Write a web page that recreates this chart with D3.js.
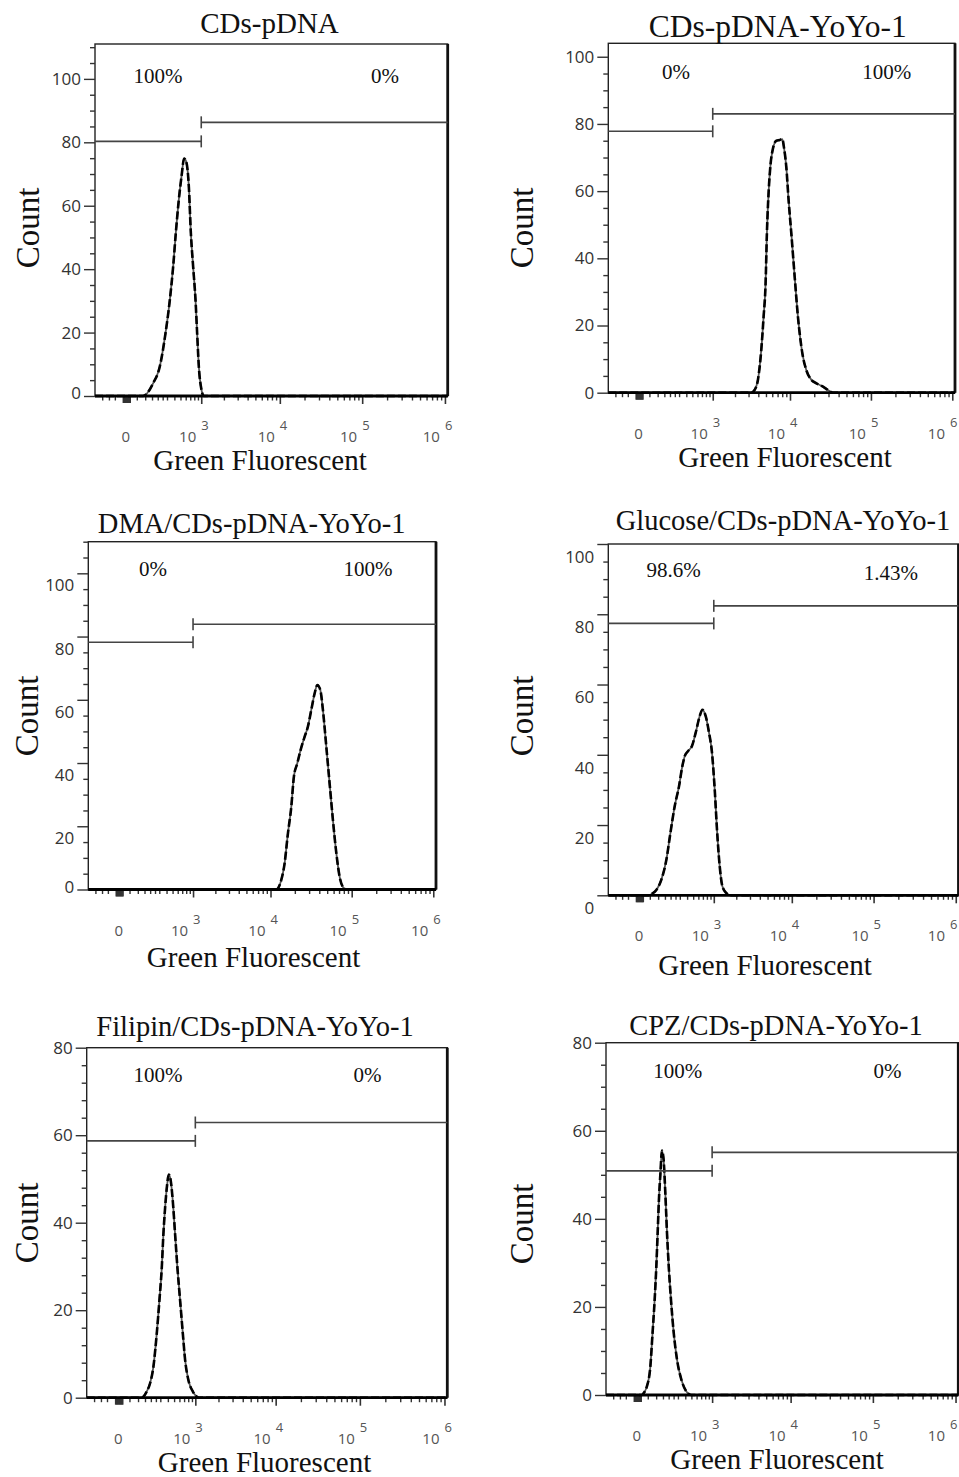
<!DOCTYPE html>
<html>
<head>
<meta charset="utf-8">
<script src="https://cdn.jsdelivr.net/npm/d3@7"></script>
<style>
  body { margin: 0; background: #fff; }
  svg { display: block; }
</style>
</head>
<body>
<svg id="canvas" width="959" height="1477"></svg>
<script>
// panel titles and gate percentages
const titles = [
  "CDs-pDNA",
  "CDs-pDNA-YoYo-1",
  "DMA/CDs-pDNA-YoYo-1",
  "Glucose/CDs-pDNA-YoYo-1",
  "Filipin/CDs-pDNA-YoYo-1",
  "CPZ/CDs-pDNA-YoYo-1",
];
const leftPercent = ["100%", "0%", "0%", "98.6%", "100%", "100%"];
const rightPercent = ["0%", "100%", "100%", "1.43%", "0%", "0%"];

// count axis
const countMax = [111, 104, 110, 100, 80, 80];
const countMinorStep = [5, 5, 5, 5, 4, 5];
const countMajorStep = 20;

// fluorescence axis (biexponential-ish display)
const fluorDomain = [-190, 1.08e6];
const decadeTicks = [1e3, 1e4, 1e5, 1e6];
const decadeExponents = ["3", "4", "5", "6"];
const zeroTicks = [-12, -8, -4, 0, 4, 8, 12, 16];
const lowTicks = [-130, -84, -50, 50, 100, 150, 200, 250, 300, 400, 500, 600, 700, 800, 900];

// gates: cut at 10^3, bar heights in count units
const gateCut = 1000;
const gateLeftLevel = [80.3, 77.8, 78.2, 77.4, 58.7, 50.9];
const gateRightLevel = [86.3, 83.0, 83.9, 82.4, 62.9, 55.1];

// histograms, [fluorescence, count]
const histCDsPDNA = [
  [86, 0], [159, 4], [220, 9.3], [282, 19.8], [336, 30.3], [382, 40.8], [422, 51.4],
  [471, 61.9], [519, 69.3], [568, 74.9], [617, 73.5], [667, 66.1], [714, 51.4],
  [770, 40.8], [832, 30.3], [877, 19.8], [926, 9.3], [1009, 1.9], [1085, 0],
];
const histYoYo = [
  [3250, 0], [3584, 0.8], [3951, 3.8], [4359, 12.7], [4666, 22.6], [4944, 32.5],
  [5135, 47.3], [5443, 61.2], [5718, 68.1], [6113, 72.6], [6748, 75.0], [7420, 75.2],
  [8022, 75.5], [8400, 73.1], [9002, 67.1], [9618, 57.2], [10400, 47.3], [11440, 34.5],
  [12560, 22.6], [14250, 11.7], [15970, 6.7], [18440, 3.8], [21270, 2.8], [25680, 1.8],
  [29610, 0.8], [34120, 0],
];
const histDMA = [
  [12000, 0], [12340, 0.3], [13590, 3.0], [14940, 8.2], [16420, 17.7], [18090, 26.2],
  [19470, 35.7], [21440, 39.9], [23550, 44.1], [26380, 48.3], [28970, 51.5],
  [31890, 56.8], [35040, 62.0], [37840, 64.7], [41200, 63.1], [44330, 56.8],
  [48820, 45.1], [53580, 33.5], [58870, 21.9], [64830, 11.4], [71160, 4.0],
  [78110, 0.8], [85990, 0],
];
const histGlucose = [
  [50, 0], [58, 0.3], [88, 1.5], [122, 4.4], [162, 10.1], [198, 17.7], [241, 25.3],
  [290, 31.0], [333, 36.8], [365, 39.6], [413, 41.0], [479, 42.5], [547, 46.3],
  [628, 51.0], [689, 52.8], [769, 51.0], [857, 46.3], [944, 40.6], [1030, 30.1],
  [1107, 18.7], [1206, 8.2], [1312, 2.5], [1484, 0.6], [1641, 0],
];
const histFilipin = [
  [125, 0], [137, 0.2], [164, 1.4], [193, 3.3], [224, 7.0], [259, 14.6], [289, 22.2],
  [318, 29.8], [338, 37.3], [361, 43.4], [385, 48.0], [414, 51.0], [445, 49.5],
  [478, 44.9], [518, 37.3], [560, 29.8], [614, 22.2], [672, 14.6], [724, 8.6],
  [805, 4.0], [927, 1.4], [1050, 0.2], [1120, 0],
];
const histCPZ = [
  [22, 0], [29, 0.4], [45, 1.9], [64, 6.4], [77, 14.0], [90, 21.5], [101, 29.1],
  [110, 36.6], [119, 44.2], [130, 50.2], [142, 55.5], [156, 53.2], [170, 45.7],
  [185, 36.6], [201, 29.1], [223, 21.5], [252, 14.0], [290, 7.9], [346, 3.4],
  [404, 1.1], [457, 0.2], [500, 0],
];
const histograms = [histCDsPDNA, histYoYo, histDMA, histGlucose, histFilipin, histCPZ];

// where each panel sits on the page
const layout = [
  { left: 95, right: 447.7, top: 44, bottom: 396, title: [269.5, 33, 29], count: [39, 228],
    xLabel: [260, 470], pctL: [158, 83], pctR: [385, 83], shift: 0, zeroShift: -3 },
  { left: 608.3, right: 955, top: 43.3, bottom: 392.7, title: [777.8, 36.5, 31.5], count: [533, 228],
    xLabel: [785, 466.5], pctL: [676, 79], pctR: [886.7, 79], shift: 0, zeroShift: 0 },
  { left: 88.3, right: 436, top: 541.7, bottom: 889.5, title: [251.7, 533.3, 28.5], count: [38, 716],
    xLabel: [253.5, 966.5], pctL: [153, 576], pctR: [368, 576], shift: 12, zeroShift: -2 },
  { left: 608.3, right: 958.5, top: 544, bottom: 895.3, title: [783, 530, 28.5], count: [533, 716],
    xLabel: [765, 975], pctL: [673.7, 577.3], pctR: [890.8, 580], shift: 13, zeroShift: 13 },
  { left: 86.7, right: 447.3, top: 1047.7, bottom: 1397.7, title: [255, 1035.7, 28.5], count: [38, 1223],
    xLabel: [264.5, 1472], pctL: [158, 1081.7], pctR: [367.5, 1081.7], shift: 0, zeroShift: 0 },
  { left: 606, right: 958.3, top: 1042.7, bottom: 1395, title: [776, 1035, 28.5], count: [533, 1224],
    xLabel: [777, 1469], pctL: [677.7, 1077.7], pctR: [887.5, 1077.7], shift: 0, zeroShift: 0 },
];

const serif = '"Liberation Serif", "Times New Roman", serif';
const sans = '"Open Sans", "DejaVu Sans", sans-serif';
const svg = d3.select("#canvas");
const pageRight = 959;

function drawPanel(i) {
  const L = layout[i];
  const g = svg.append("g").attr("class", "panel");

  const x = d3.scaleSymlog().constant(140).domain(fluorDomain).range([L.left, L.right]);
  const y = d3.scaleLinear().domain([0, countMax[i]]).range([L.bottom, L.top]);

  // frame
  g.append("rect")
    .attr("x", L.left).attr("y", L.top)
    .attr("width", L.right - L.left).attr("height", L.bottom - L.top)
    .style("fill", "none").style("stroke", "#222").style("stroke-width", 1.4);
  g.append("line")
    .attr("x1", L.right).attr("x2", L.right).attr("y1", L.top).attr("y2", L.bottom)
    .style("stroke", "#111").style("stroke-width", 2.8);

  // y axis ticks
  const majors = d3.range(0, countMax[i] + 0.01, countMajorStep);
  const minors = d3.range(0, countMax[i] + 0.01, countMinorStep[i]).filter((d) => d % countMajorStep !== 0);

  g.append("g")
    .attr("transform", `translate(${L.left},0)`)
    .call(d3.axisLeft(y).tickValues(minors).tickSize(5).tickFormat(""))
    .call((a) => a.select(".domain").remove());
  const yAxis = g.append("g")
    .attr("transform", `translate(${L.left},0)`)
    .call(d3.axisLeft(y).tickValues(majors).tickSize(11).tickPadding(3).tickFormat(d3.format("d")))
    .call((a) => a.select(".domain").remove());
  yAxis.selectAll("text")
    .attr("transform", (d) => `translate(0,${d === 0 ? L.zeroShift : L.shift})`)
    .style("font-family", sans).style("font-size", "17px").style("fill", "#333");
  g.selectAll(".tick line").style("stroke", "#333").style("stroke-width", 1.4);

  // x axis ticks
  const xTicks = (vals, size, w) =>
    g.append("g")
      .attr("transform", `translate(0,${L.bottom})`)
      .call(d3.axisBottom(x).tickValues(vals).tickSize(size).tickFormat(""))
      .call((a) => a.select(".domain").remove())
      .selectAll(".tick line").style("stroke", "#333").style("stroke-width", w);

  const decadeMinor = [];
  decadeTicks.slice(0, 3).forEach((d) => {
    for (let m = 2; m <= 9; m++) decadeMinor.push(d * m);
  });
  xTicks(lowTicks.concat(decadeMinor), 4.5, 1.4);
  xTicks(zeroTicks, 7, 1.6);
  xTicks(decadeTicks, 8, 1.6);

  // x tick labels: "0" and 10 with a raised exponent
  g.append("text")
    .attr("x", x(0)).attr("y", L.bottom + 46)
    .attr("text-anchor", "middle")
    .style("font-family", sans).style("font-size", "15px").style("fill", "#555")
    .text("0");
  const expX = (d) => Math.min(x(d), pageRight - 9);
  const decadeLabels = g.append("g")
    .style("font-family", sans).style("fill", "#555");
  decadeLabels.selectAll("text.base")
    .data(decadeTicks)
    .join("text")
    .attr("class", "base")
    .attr("x", (d) => expX(d) - 5).attr("y", L.bottom + 46)
    .attr("text-anchor", "end")
    .style("font-size", "15px")
    .text("10");
  decadeLabels.selectAll("text.exp")
    .data(decadeTicks)
    .join("text")
    .attr("class", "exp")
    .attr("x", (d) => expX(d)).attr("y", L.bottom + 34)
    .attr("text-anchor", "start")
    .style("font-size", "13px")
    .text((d, j) => decadeExponents[j]);

  // histogram
  const pts = [[fluorDomain[0], 0]].concat(histograms[i], [[fluorDomain[1], 0]]);
  const line = d3.line()
    .x((d) => x(d[0]))
    .y((d) => y(d[1]))
    .curve(d3.curveMonotoneX);
  g.append("path").attr("d", line(pts))
    .style("fill", "none").style("stroke", "#555").style("stroke-width", 1.8);
  g.append("path").attr("d", line(pts))
    .style("fill", "none").style("stroke", "#000").style("stroke-width", 2.6)
    .style("stroke-dasharray", "8,3");
  g.append("line")
    .attr("x1", L.left).attr("x2", L.right).attr("y1", L.bottom).attr("y2", L.bottom)
    .style("stroke", "#000").style("stroke-width", 2.8);

  // gates
  const gate = (x1, x2, level) => {
    const gy = y(level);
    g.append("line")
      .attr("x1", x1).attr("x2", x2).attr("y1", gy).attr("y2", gy)
      .style("stroke", "#444").style("stroke-width", 1.6);
    g.append("line")
      .attr("x1", x(gateCut)).attr("x2", x(gateCut)).attr("y1", gy - 6).attr("y2", gy + 6)
      .style("stroke", "#444").style("stroke-width", 1.6);
  };
  gate(x(fluorDomain[0]), x(gateCut), gateLeftLevel[i]);
  gate(x(gateCut), x(fluorDomain[1]), gateRightLevel[i]);

  // texts
  const label = (pos, txt, size) =>
    g.append("text")
      .attr("x", pos[0]).attr("y", pos[1])
      .attr("text-anchor", "middle")
      .style("font-family", serif).style("font-size", size + "px").style("fill", "#111")
      .text(txt);
  label(L.title, titles[i], L.title[2]);
  label(L.pctL, leftPercent[i], 21);
  label(L.pctR, rightPercent[i], 21);
  label(L.xLabel, "Green Fluorescent", 29);
  g.append("text")
    .attr("transform", `translate(${L.count[0]},${L.count[1]}) rotate(-90)`)
    .attr("text-anchor", "middle")
    .style("font-family", serif).style("font-size", "33px").style("fill", "#111")
    .text("Count");
}

titles.forEach((_, i) => drawPanel(i));
</script>
</body>
</html>
